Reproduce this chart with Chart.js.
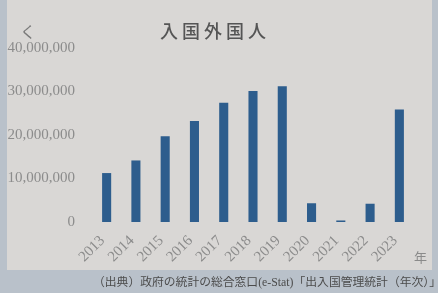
<!DOCTYPE html>
<html>
<head>
<meta charset="utf-8">
<script src="https://cdn.jsdelivr.net/npm/chart.js@4"></script>
<style>
  html, body { margin:0; padding:0; }
  body { width:438px; height:293px; background:#b9c1ca; position:relative; overflow:hidden; }
  #panel { position:absolute; left:7px; top:0; width:425px; height:270px; background:#d9d7d5; }
  #chart { position:absolute; left:0; top:0; }
  .note { position:absolute; font-family:"Noto Sans CJK JP", sans-serif; color:#555; white-space:nowrap; }
  #back { left:20px; top:19px; font-size:16px; color:#7a7a7a; }
  #title { left:-4px; width:438px; top:17px; text-align:center; font-size:18px; letter-spacing:4px; color:#555; font-weight:500; }
  #nen { left:414px; top:247px; font-size:13px; color:#8a8a8a; }
  #source { left:93px; top:272px; font-size:11.8px; color:#4c4c4c; font-family:"Liberation Serif", "Noto Sans CJK JP", serif; }
</style>
</head>
<body>
<div id="panel"></div>
<canvas id="chart" width="438" height="293"></canvas>
<div class="note" id="back">く</div>
<div class="note" id="title">入国外国人</div>
<div class="note" id="nen">年</div>
<div class="note" id="source">（出典）政府の統計の総合窓口(e-Stat)「出入国管理統計（年次）」</div>
<script>
const years = ["2013","2014","2015","2016","2017","2018","2019","2020","2021","2022","2023"];
const entrants = [11250000, 14150000, 19690000, 23220000, 27430000, 30100000, 31190000, 4310000, 350000, 4200000, 25840000];
const yTicks = [0, 10000000, 20000000, 30000000, 40000000];

const tickFont = {family:"Liberation Serif, DejaVu Serif, serif", size:15};

new Chart(document.getElementById("chart").getContext("2d"), {
    type:'bar',
    data:{ labels: years, datasets:[{ label:'入国外国人', data: entrants, backgroundColor:'#2d5d8d', barPercentage:0.62, categoryPercentage:0.5 }] },
    options:{
        responsive:false,
        animation:false,
        layout:{ padding:{left:7, right:24, top:48, bottom:21} },
        plugins:{
            legend:{display:false},
            tooltip:{enabled:false}
        },
        scales:{
            x:{
                grid:{display:false, drawTicks:false},
                border:{display:false},
                ticks:{ color:'#8c8c8c', font:tickFont, minRotation:45, maxRotation:45, padding:10, labelOffset:-4, autoSkip:false },
                afterFit: s => { s.height = 50; }
            },
            y:{
                min:0, max:40000000,
                grid:{display:false, drawTicks:false},
                border:{display:false},
                afterBuildTicks: s => { s.ticks = yTicks.map(v => ({value:v})); },
                ticks:{ color:'#8c8c8c', font:tickFont, padding:17,
                    callback: v => v.toLocaleString('en-US') },
                afterFit: s => { s.width = 85; }
            }
        }
    }
});
</script>
</body>
</html>
